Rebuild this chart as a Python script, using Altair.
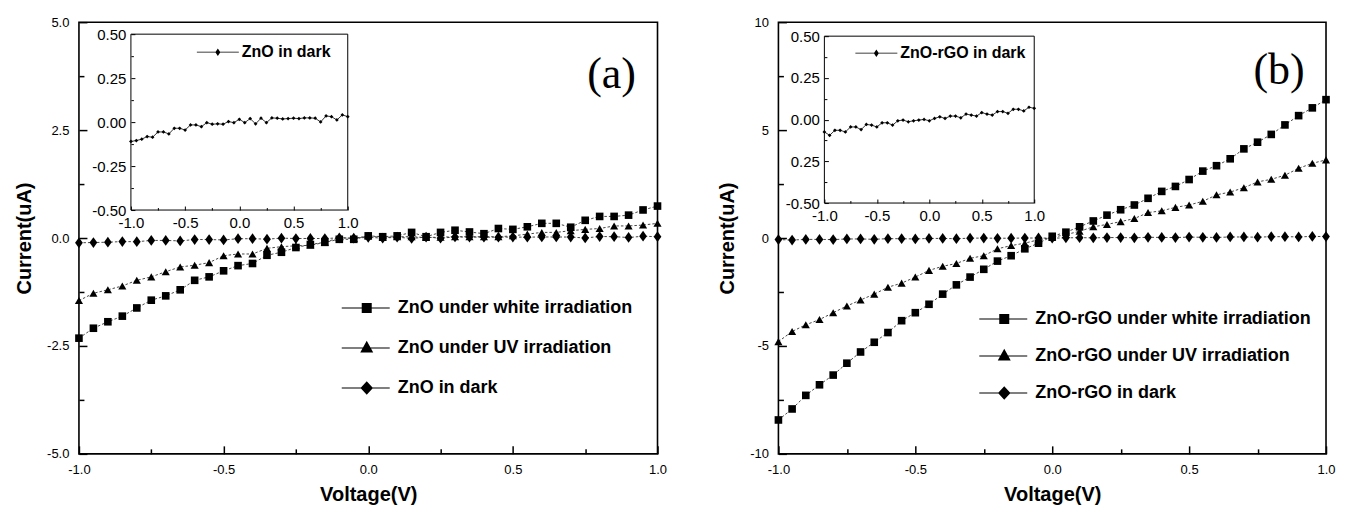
import altair as alt
import pandas as pd

# ---------------- data ----------------
VOLTAGE = [-1.0, -0.95, -0.9, -0.85, -0.8, -0.75, -0.7, -0.65, -0.6, -0.55, -0.5,
           -0.45, -0.4, -0.35, -0.3, -0.25, -0.2, -0.15, -0.1, -0.05, 0.0,
           0.05, 0.1, 0.15, 0.2, 0.25, 0.3, 0.35, 0.4, 0.45, 0.5,
           0.55, 0.6, 0.65, 0.7, 0.75, 0.8, 0.85, 0.9, 0.95, 1.0]

A_WHITE = [-2.32, -2.09, -1.94, -1.81, -1.62, -1.44, -1.34, -1.20, -0.98, -0.90, -0.76,
           -0.64, -0.59, -0.40, -0.33, -0.22, -0.15, -0.10, -0.03, -0.03, 0.05,
           0.03, 0.05, 0.13, 0.03, 0.13, 0.18, 0.14, 0.10, 0.22, 0.20,
           0.26, 0.34, 0.34, 0.25, 0.41, 0.50, 0.50, 0.53, 0.65, 0.74]
A_UV = [-1.45, -1.28, -1.20, -1.11, -0.98, -0.90, -0.78, -0.67, -0.63, -0.57, -0.41,
        -0.37, -0.37, -0.24, -0.20, -0.18, -0.17, -0.10, 0.01, -0.01, 0.05,
        0.01, 0.03, 0.03, 0.01, 0.02, 0.03, 0.03, 0.03, 0.03, 0.05,
        0.09, 0.13, 0.13, 0.17, 0.20, 0.22, 0.28, 0.28, 0.30, 0.34]
A_DARK = [-0.110, -0.105, -0.097, -0.082, -0.086, -0.056, -0.056, -0.067, -0.035, -0.035, -0.045,
          -0.016, -0.016, -0.026, -0.003, -0.012, -0.010, -0.012, 0.003, -0.003, 0.016,
          -0.003, 0.020, -0.010, 0.022, -0.003, 0.024, 0.022, 0.018, 0.020, 0.022,
          0.020, 0.024, 0.024, 0.022, 0.001, 0.035, 0.031, 0.012, 0.041, 0.031]

B_WHITE = [-8.43, -7.92, -7.29, -6.80, -6.35, -5.80, -5.28, -4.83, -4.38, -3.83, -3.46,
           -3.07, -2.60, -2.17, -1.81, -1.45, -1.07, -0.82, -0.50, -0.24, 0.08,
           0.27, 0.52, 0.79, 1.06, 1.31, 1.53, 1.84, 2.16, 2.39, 2.71,
           3.10, 3.35, 3.67, 4.13, 4.44, 4.80, 5.24, 5.67, 6.03, 6.41]
B_UV = [-4.80, -4.33, -4.02, -3.78, -3.46, -3.15, -2.87, -2.60, -2.28, -2.09, -1.81,
        -1.50, -1.31, -1.18, -0.94, -0.82, -0.50, -0.35, -0.24, -0.08, 0.03,
        0.16, 0.31, 0.52, 0.63, 0.76, 0.90, 1.18, 1.26, 1.42, 1.53,
        1.70, 2.00, 2.13, 2.33, 2.60, 2.72, 2.91, 3.23, 3.46, 3.62]
B_DARK = [-0.074, -0.094, -0.064, -0.064, -0.074, -0.044, -0.044, -0.060, -0.029, -0.033, -0.044,
          -0.019, -0.019, -0.033, -0.007, -0.003, -0.013, -0.007, -0.003, 0.001, -0.007,
          0.007, 0.017, 0.007, 0.021, 0.021, 0.011, 0.033, 0.027, 0.021, 0.042,
          0.033, 0.027, 0.048, 0.048, 0.038, 0.062, 0.062, 0.052, 0.074, 0.068]

A_SERIES = ["ZnO under white irradiation", "ZnO under UV irradiation", "ZnO in dark"]
B_SERIES = ["ZnO-rGO under white irradiation", "ZnO-rGO under UV irradiation", "ZnO-rGO in dark"]
A_INSET_LABEL = ["ZnO in dark"]
B_INSET_LABEL = ["ZnO-rGO in dark"]
A_PANEL = "(a)"
B_PANEL = "(b)"

X_MAJOR = [-1.0, -0.5, 0.0, 0.5, 1.0]
X_MINOR = [-0.75, -0.25, 0.25, 0.75]
A_Y_MAJOR = [-5.0, -2.5, 0.0, 2.5, 5.0]
A_Y_MINOR = [-3.75, -1.25, 1.25, 3.75]
B_Y_MAJOR = [-10, -5, 0, 5, 10]
B_Y_MINOR = [-7.5, -2.5, 2.5, 7.5]
INSET_Y_MAJOR = [-0.5, -0.25, 0.0, 0.25, 0.5]
INSET_Y_MINOR = [-0.375, -0.125, 0.125, 0.375]
X_DOMAIN = [-1.0, 1.0]
A_Y_DOMAIN = [-5.0, 5.0]
B_Y_DOMAIN = [-10.0, 10.0]
INSET_X_DOMAIN = [-1.0, 1.0]
INSET_Y_DOMAIN = [-0.5, 0.5]

# ---------------- styles ----------------
TXT_FONT = "Liberation Sans, Arial"
PLOT_SHAPES = ["square", "triangle-up", "M0,-1.25L0.9,0L0,1.25L-0.9,0Z"]
PLOT_SIZES = [58, 74, 86]
# filled paths: thin bar (the legend line) + marker, all clockwise
LEGEND_SHAPES = ["M-5,-0.1H4.6V0.1H-5ZM-1,-1H1V1H-1Z",
                 "M-5,-0.1H4.6V0.1H-5ZM0,-1.45L1.3,0.9H-1.3Z",
                 "M-5,-0.1H4.6V0.1H-5ZM0,-1.35L1.25,0L0,1.35L-1.25,0Z"]
INSET_LEGEND_SHAPE = ["M-4.2,-0.09H4.2V0.09H-4.2ZM0,-0.75L0.5,0L0,0.75L-0.5,0Z"]
MINUS = "\u2212"


def fmt(spec):
    return f"replace(format(datum.value, '{spec}'), '{MINUS}', '-')"


def neg(v):
    return alt.ExprRef(expr=str(-v))


def axis(orient, values, label_expr=None, size=8, width=1.5, pad=18, font_size=13,
         title=None, title_pad=8, offset=None):
    kw = dict(orient=orient, values=values, tickSize=neg(size), tickColor="black",
              tickWidth=width, domain=False, grid=False, zindex=2,
              labelOverlap=False, labelFlush=False)
    if offset is not None:
        kw["offset"] = offset
    if label_expr is None:
        kw["labels"] = False
    else:
        kw.update(labelExpr=label_expr, labelPadding=pad, labelFont=TXT_FONT,
                  labelFontSize=font_size, labelColor="black")
    if title is None:
        kw["title"] = None
    else:
        kw.update(title=title, titleFont=TXT_FONT, titleFontSize=20, titleFontWeight="bold",
                  titleColor="black", titlePadding=title_pad)
    return alt.Axis(**kw)


def make_panel(series, white, uv, dark, inset_label, y_domain, y_major, y_minor,
               y_label_expr, inset_y_label_expr, width, height, inset_xr, inset_yr,
               leg_xy, leg_row_pad, ileg_xy, panel_label, panel_xy):
    H = height
    main_df = pd.DataFrame({
        "V": VOLTAGE * 3,
        "I": white + uv + dark,
        "series": [series[0]] * len(VOLTAGE) + [series[1]] * len(VOLTAGE) + [series[2]] * len(VOLTAGE),
    })
    xs = alt.Scale(domain=X_DOMAIN, nice=False, zero=False)
    ys = alt.Scale(domain=y_domain, nice=False, zero=False)
    mx = alt.X("V:Q", scale=xs, axis=axis("bottom", X_MAJOR, fmt('.1f'), title="Voltage(V)", title_pad=8))
    my = alt.Y("I:Q", scale=ys, axis=axis("left", y_major, y_label_expr, title="Current(uA)", title_pad=12))

    lines = alt.Chart(main_df).mark_line(strokeDash=[2.5, 2], strokeWidth=0.9, color="#333").encode(
        x=mx, y=my, detail="series:N")
    points = alt.Chart(main_df).mark_point(filled=True, color="black", opacity=1).encode(
        x="V:Q", y="I:Q",
        shape=alt.Shape("series:N", scale=alt.Scale(domain=series, range=PLOT_SHAPES), legend=None),
        size=alt.Size("series:N", scale=alt.Scale(domain=series, range=PLOT_SIZES), legend=None))
    leg_df = pd.DataFrame({"V": [None] * 3, "I": [None] * 3, "entry": series})
    legend_layer = alt.Chart(leg_df).mark_point(filled=True, color="black", opacity=0).encode(
        x="V:Q", y="I:Q",
        shape=alt.Shape("entry:N", scale=alt.Scale(domain=series, range=LEGEND_SHAPES),
                        legend=alt.Legend(orient="none", legendX=leg_xy[0], legendY=leg_xy[1],
                                          title=None, padding=0, labelFont=TXT_FONT,
                                          labelFontSize=18, labelFontWeight="bold",
                                          labelColor="black", labelLimit=500, labelOffset=22,
                                          rowPadding=leg_row_pad, symbolSize=100,
                                          symbolFillColor="black", symbolStrokeWidth=0,
                                          symbolOpacity=1)))
    lab_df = pd.DataFrame({"t": [panel_label]})
    label = alt.Chart(lab_df).mark_text(font="Liberation Serif, Times New Roman, serif",
                                        fontSize=44, align="center", baseline="middle",
                                        color="black").encode(
        text="t:N", x=alt.value(panel_xy[0]), y=alt.value(panel_xy[1]))
    main = alt.layer(lines, points, legend_layer, label).resolve_scale(shape="independent", size="independent")

    main_minor = alt.Chart(main_df).mark_point(opacity=0).encode(
        x=alt.X("V:Q", scale=xs, axis=axis("bottom", X_MINOR, size=5)),
        y=alt.Y("I:Q", scale=ys, axis=axis("left", y_minor, size=5)))

    # ---- inset ----
    ixs = alt.Scale(domain=INSET_X_DOMAIN, range=inset_xr, nice=False, zero=False)
    iys = alt.Scale(domain=INSET_Y_DOMAIN, range=inset_yr, nice=False, zero=False)
    x_off = -(H - inset_yr[0])
    y_off = -inset_xr[0]
    ix = alt.X("V:Q", scale=ixs, axis=axis("bottom", X_MAJOR, fmt('.1f'), size=4, width=1, pad=9,
                                          font_size=15, offset=x_off))
    iy = alt.Y("I:Q", scale=iys, axis=axis("left", INSET_Y_MAJOR, inset_y_label_expr, size=4, width=1,
                                          pad=9, font_size=15, offset=y_off))

    frame_df = pd.DataFrame({"V": [INSET_X_DOMAIN[0]], "V2": [INSET_X_DOMAIN[1]],
                             "I": [INSET_Y_DOMAIN[0]], "I2": [INSET_Y_DOMAIN[1]]})
    frame = alt.Chart(frame_df).mark_rect(fill="white", stroke="black", strokeWidth=1).encode(
        x=ix, x2="V2:Q", y=iy, y2="I2:Q")
    inset_df = pd.DataFrame({"V": VOLTAGE, "I": dark})
    iline = alt.Chart(inset_df).mark_line(color="black", strokeWidth=0.8).encode(x="V:Q", y="I:Q")
    ipts = alt.Chart(inset_df).mark_point(filled=True, color="black", size=14, shape="diamond",
                                          opacity=1).encode(x="V:Q", y="I:Q")
    ileg_df = pd.DataFrame({"V": [None], "I": [None], "entry": inset_label})
    ileg = alt.Chart(ileg_df).mark_point(filled=True, color="black", opacity=0).encode(
        x="V:Q", y="I:Q",
        shape=alt.Shape("entry:N", scale=alt.Scale(domain=inset_label, range=INSET_LEGEND_SHAPE),
                        legend=alt.Legend(orient="none", legendX=ileg_xy[0], legendY=ileg_xy[1],
                                          title=None, padding=0, labelFont=TXT_FONT,
                                          labelFontSize=16, labelFontWeight="bold",
                                          labelColor="black", labelLimit=400, labelOffset=16,
                                          symbolSize=100, symbolFillColor="black",
                                          symbolStrokeWidth=0, symbolOpacity=1)))
    inset = alt.layer(frame, iline, ipts, ileg)

    inset_minor = alt.Chart(inset_df).mark_point(opacity=0).encode(
        x=alt.X("V:Q", scale=ixs, axis=axis("bottom", X_MINOR, size=2.5, width=1, offset=x_off)),
        y=alt.Y("I:Q", scale=iys, axis=axis("left", INSET_Y_MINOR, size=2.5, width=1, offset=y_off)))

    return alt.layer(main, main_minor, inset, inset_minor).resolve_scale(
        x="independent", y="independent", shape="independent", size="independent"
    ).properties(width=width, height=height)


inset_b_label = ("datum.value == -0.25 ? '0.25' : " + fmt('.2f'))

panel_a = make_panel(
    A_SERIES, A_WHITE, A_UV, A_DARK, A_INSET_LABEL, A_Y_DOMAIN, A_Y_MAJOR, A_Y_MINOR,
    fmt('.1f'), fmt('.2f'),
    579, 432, [52, 269], [188, 12], (279, 277), 22, (131, 22), A_PANEL, (533, 53))
panel_b = make_panel(
    B_SERIES, B_WHITE, B_UV, B_DARK, B_INSET_LABEL, B_Y_DOMAIN, B_Y_MAJOR, B_Y_MINOR,
    "toString(datum.value)", inset_b_label,
    548, 432, [46, 256], [181, 14], (217, 288), 19, (90, 23), B_PANEL, (501, 49))

chart = alt.hconcat(panel_a, panel_b, spacing=49).resolve_scale(
    x="independent", y="independent", shape="independent", size="independent"
).resolve_legend(shape="independent").properties(
    padding={"left": 5, "right": 5, "top": 7, "bottom": 0}, background="white"
).configure_view(stroke="black", strokeWidth=1.6)

chart.save("out.html", embed_options={"renderer": "svg", "actions": False})
